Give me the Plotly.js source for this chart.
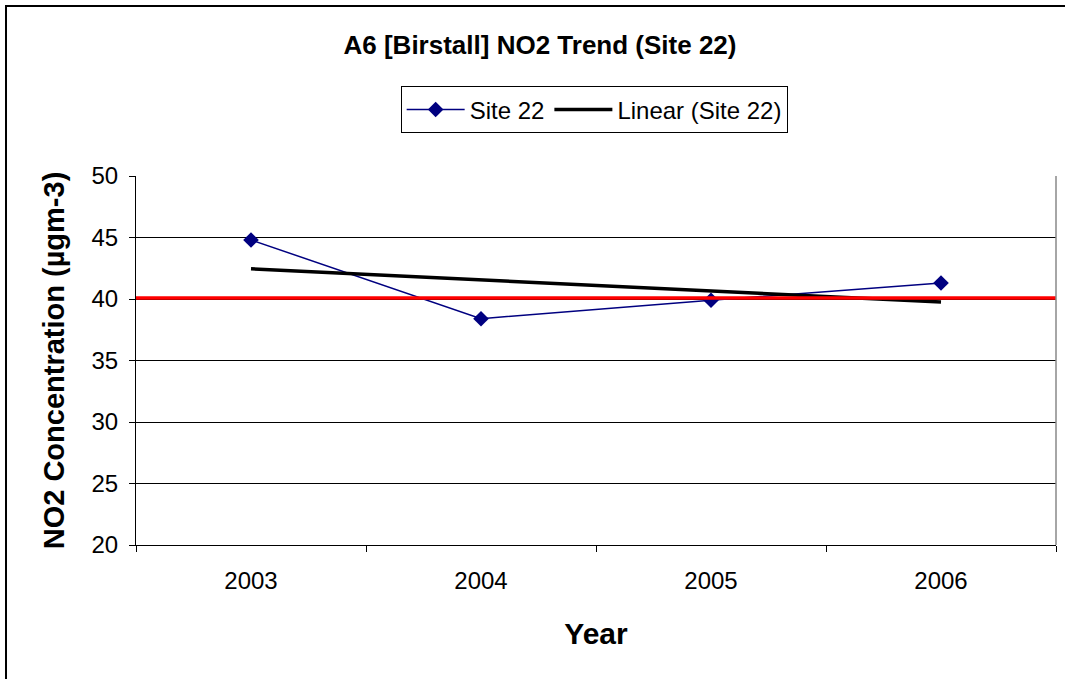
<!DOCTYPE html>
<html>
<head>
<meta charset="utf-8">
<script src="https://cdn.plot.ly/plotly-3.0.1.min.js"></script>
<style>
html,body{margin:0;padding:0;background:#fff;}
#chart{width:1065px;height:679px;}
</style>
</head>
<body>
<div id="chart"></div>
<script>
const years = ['2003', '2004', '2005', '2006'];
const site22 = [44.8, 38.4, 39.9, 41.3];
const linearTrend = [42.45, 41.55, 40.65, 39.75];
const objectiveLevel = 40.08;
const yTicks = [20, 25, 30, 35, 40, 45, 50];

const FONT = 'Arial, "Liberation Sans", sans-serif';

const traces = [
  {
    x: years, y: site22, name: 'Site 22', type: 'scatter', mode: 'lines+markers',
    line: {color: '#000080', width: 1.5},
    marker: {symbol: 'diamond', size: 12, color: '#000080'}
  },
  {
    x: years, y: linearTrend, name: 'Linear (Site 22)', type: 'scatter', mode: 'lines',
    line: {color: '#000000', width: 3.5}
  }
];

const layout = {
  width: 1065, height: 679,
  margin: {l: 136, r: 9, t: 176, b: 134},
  paper_bgcolor: '#ffffff', plot_bgcolor: '#ffffff',
  font: {family: FONT, color: '#000', size: 24},
  title: {
    text: '<b>A6 [Birstall] NO2 Trend (Site 22)</b>',
    x: 540/1065, xref: 'container', xanchor: 'center',
    y: 1 - 45/679, yanchor: 'middle',
    font: {size: 26, family: FONT}
  },
  showlegend: true,
  legend: {
    orientation: 'h', x: 0.498, xanchor: 'center', y: 1.243, yanchor: 'top',
    bordercolor: '#000', borderwidth: 1, bgcolor: '#fff',
    font: {size: 24, family: FONT}, traceorder: 'normal', itemwidth: 58
  },
  xaxis: {
    type: 'category', range: [-0.5, 3.5], tickson: 'boundaries', ticks: 'outside', ticklen: 6,
    tickcolor: '#000', showgrid: false, showline: true, linecolor: '#000', linewidth: 1,
    mirror: false, zeroline: false, ticklabelstandoff: 14,
    tickfont: {size: 24, family: FONT},
    title: {text: '<b>Year</b>', font: {size: 30, family: FONT}, standoff: 30},
    fixedrange: true
  },
  yaxis: {
    range: [20, 50], tickvals: yTicks, ticks: 'outside', ticklen: 6, tickcolor: '#000',
    showgrid: true, gridcolor: '#000', gridwidth: 1, ticklabelstandoff: 6,
    showline: true, linecolor: '#000', linewidth: 1, zeroline: false,
    tickfont: {size: 24, family: FONT},
    title: {text: '<b>NO2 Concentration (µgm-3)</b>', font: {size: 29, family: FONT}, standoff: 18}
  },
  shapes: [
    {type: 'line', xref: 'paper', yref: 'y', x0: 0, x1: 1, y0: objectiveLevel, y1: objectiveLevel,
     line: {color: '#ff0000', width: 3.5}, layer: 'above'},
    {type: 'line', xref: 'paper', yref: 'paper', x0: 1, x1: 1, y0: 0, y1: 1,
     line: {color: '#888', width: 1.5}},
    {type: 'rect', xref: 'paper', yref: 'paper', x0: -0.1413, x1: 1.3, y0: -0.6, y1: 1.4607,
     line: {color: '#000', width: 2}, layer: 'below'}
  ]
};

Plotly.newPlot('chart', traces, layout, {displayModeBar: false, staticPlot: true});
</script>
</body>
</html>
